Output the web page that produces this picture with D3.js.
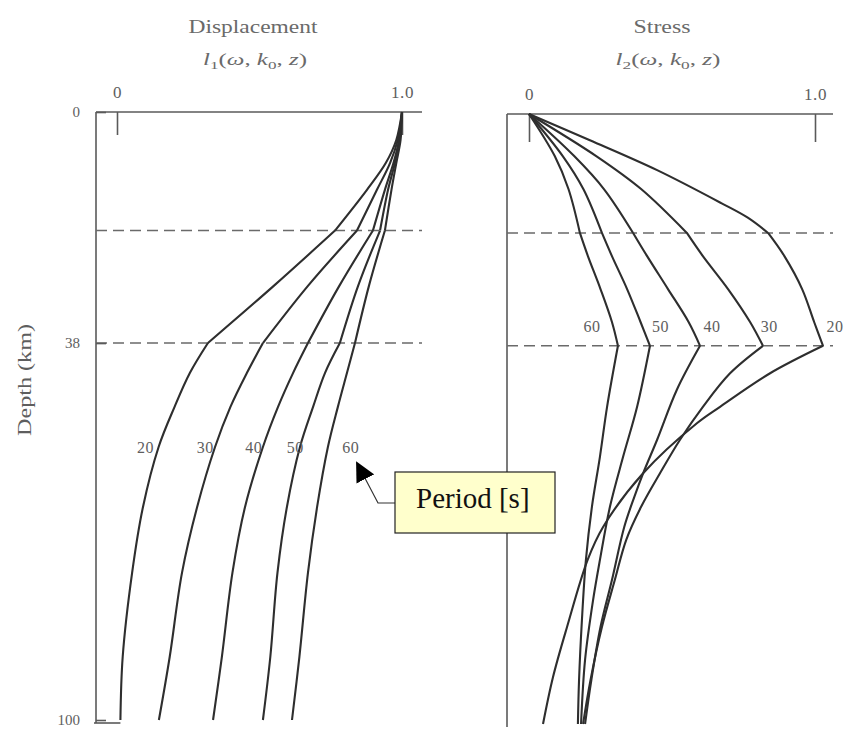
<!DOCTYPE html>
<html>
<head>
<meta charset="utf-8">
<script src="https://cdn.jsdelivr.net/npm/d3@7"></script>
<style>
  html, body { margin: 0; padding: 0; background: #ffffff; }
  svg { display: block; }
  text { font-family: "Liberation Serif", "DejaVu Serif", serif; }
</style>
</head>
<body>
<script>
// ---------------- DATA ----------------
const periods = [20, 30, 40, 50, 60];
const layerBoundaries = [19.5, 38];
const depthTicks = [0, 38, 100];
const valueTicks = [0, 1.0];

// displacement l1(w,k0,z): [depth km, value]
const disp20 = [[0,1.0],[4.6,0.98],[8.4,0.943],[12.8,0.877],[19.5,0.765],[28.6,0.55],[38,0.319],[42.9,0.256],[48.5,0.202],[55.1,0.146],[65,0.091],[75.8,0.053],[89.6,0.02],[100,0.012]];
const disp30 = [[0,1.0],[4.6,0.985],[8.4,0.958],[12.8,0.912],[19.5,0.842],[28.6,0.67],[38,0.512],[42.9,0.456],[48.5,0.398],[55.1,0.344],[65,0.281],[75.8,0.228],[89.6,0.185],[100,0.147]];
const disp40 = [[0,1.0],[4.6,0.99],[8.4,0.97],[12.8,0.94],[19.5,0.898],[28.6,0.78],[38,0.67],[42.9,0.618],[48.5,0.565],[55.1,0.512],[65,0.449],[75.8,0.405],[89.6,0.368],[100,0.337]];
const disp50 = [[0,1.0],[4.6,0.99],[8.4,0.975],[12.8,0.951],[19.5,0.923],[28.6,0.846],[38,0.782],[42.9,0.73],[48.5,0.688],[55.1,0.642],[65,0.596],[75.8,0.563],[89.6,0.538],[100,0.512]];
const disp60 = [[0,1.0],[4.6,0.995],[8.4,0.98],[12.8,0.963],[19.5,0.94],[28.6,0.884],[38,0.835],[42.9,0.807],[48.5,0.775],[55.1,0.74],[65,0.702],[75.8,0.67],[89.6,0.64],[100,0.614]];

// stress l2(w,k0,z): [depth km, value]
const str20 = [[0,0],[4.3,0.213],[9.2,0.448],[14.6,0.672],[17,0.765],[19.5,0.836],[23.3,0.893],[28.7,0.955],[34.1,0.997],[38,1.028],[42.5,0.843],[48,0.668],[50.7,0.587],[58.9,0.399],[67.7,0.259],[73.1,0.205],[84.1,0.133],[92.3,0.084],[100,0.049]];
const str30 = [[0,0],[6.9,0.235],[12.3,0.392],[19.5,0.552],[23.3,0.608],[28.7,0.696],[34.1,0.773],[38,0.818],[42.5,0.703],[48,0.608],[53.4,0.528],[58.9,0.458],[64.4,0.392],[69.8,0.34],[76.4,0.30],[84.1,0.255],[92.8,0.215],[100,0.189]];
const str40 = [[0,0],[6.9,0.158],[12.3,0.262],[19.5,0.364],[23.3,0.413],[28.7,0.486],[34.1,0.558],[38,0.598],[45.2,0.517],[53.4,0.448],[58.9,0.399],[62.8,0.368],[67.7,0.333],[76.4,0.29],[84.1,0.25],[92.8,0.218],[100,0.196]];
const str50 = [[0,0],[6.9,0.118],[12.3,0.19],[19.5,0.255],[23.3,0.29],[28.7,0.343],[34.1,0.39],[38,0.423],[48,0.378],[56.2,0.329],[64.4,0.283],[73.1,0.248],[79.7,0.224],[89.5,0.196],[100,0.182]];
const str60 = [[0,0],[6.9,0.09],[12.3,0.138],[19.5,0.178],[23.3,0.206],[28.7,0.25],[34.1,0.29],[38,0.311],[48,0.273],[56.2,0.248],[64.4,0.22],[73.1,0.199],[83,0.185],[92.8,0.175],[100,0.171]];

const dispSeries = [disp20, disp30, disp40, disp50, disp60];
const strSeries = [str20, str30, str40, str50, str60];

// period label anchors [depth, value], in the order of `periods`
const dispLabelPos = [[55.4,0.10],[55.4,0.31],[55.4,0.48],[55.4,0.625],[55.4,0.82]];
const strLabelPos = [[35.1,1.07],[35.1,0.84],[35.1,0.64],[35.1,0.46],[35.1,0.22]];

const panelTitles = ["Displacement", "Stress"];
const panelSubs = ["1", "2"];
const depthLabel = "Depth (km)";
const calloutText = "Period [s]";

// ---------------- LAYOUT ----------------
const W = 850, H = 734;
const svg = d3.select("body").append("svg").attr("width", W).attr("height", H);

const lineCol = "#2e2e2e", frameCol = "#5a5a5a", textCol = "#5e5e5e";

const panels = [
  { x: d3.scaleLinear().domain([0,1]).range([117,402]),
    y: d3.scaleLinear().domain([0,100]).range([112,720]),
    left: 96, right: 422, series: dispSeries, labels: dispLabelPos,
    titleX: 253, titleW: 129, subX: 255, subW: 104, tickLen: 23 },
  { x: d3.scaleLinear().domain([0,1]).range([529,815]),
    y: d3.scaleLinear().domain([0,100]).range([114,724]),
    left: 507, right: 833, series: strSeries, labels: strLabelPos,
    titleX: 662, titleW: 57, subX: 668, subW: 105, tickLen: 28 }
];

panels.forEach((p, pi) => {
  const g = svg.append("g");
  const y0 = p.y(0);

  // frame: top line and left line
  g.append("line").attr("x1", p.left).attr("x2", p.right).attr("y1", y0).attr("y2", y0)
    .attr("stroke", frameCol).attr("stroke-width", 1.6);
  g.append("line").attr("x1", p.left).attr("x2", p.left).attr("y1", y0).attr("y2", p.y(100) + 3)
    .attr("stroke", frameCol).attr("stroke-width", 1.6);

  // top value axis
  const ax = d3.axisTop(p.x).tickValues(valueTicks)
    .tickFormat(d => d === 0 ? "0" : d3.format(".1f")(d))
    .tickSizeInner(-p.tickLen).tickSizeOuter(0).tickPadding(14);
  const axG = g.append("g").attr("transform", `translate(0,${y0})`).call(ax);
  axG.select(".domain").remove();
  axG.selectAll("line").attr("stroke", frameCol).attr("stroke-width", 1.6);
  axG.selectAll("text").attr("font-size", 17).attr("letter-spacing", 0.6).attr("fill", textCol)
    .attr("font-family", "Liberation Serif, serif");

  // dashed layer boundaries
  layerBoundaries.forEach(d => {
    g.append("line").attr("x1", p.left).attr("x2", p.right)
      .attr("y1", p.y(d)).attr("y2", p.y(d))
      .attr("stroke", "#6a6a6a").attr("stroke-width", 1.5)
      .attr("stroke-dasharray", "11,6");
  });

  // curves, drawn layer by layer so kinks stay sharp
  const line = d3.line().x(d => p.x(d[1])).y(d => p.y(d[0])).curve(d3.curveCatmullRom.alpha(0.5));
  const edges = [0, ...layerBoundaries, 100];
  p.series.forEach(s => {
    for (let i = 0; i < edges.length - 1; i++) {
      const seg = s.filter(d => d[0] >= edges[i] && d[0] <= edges[i+1]);
      g.append("path").datum(seg).attr("d", line)
        .attr("fill", "none").attr("stroke", lineCol).attr("stroke-width", 2.1)
        .attr("stroke-linejoin", "miter");
    }
  });

  // period labels
  p.labels.forEach((lp, i) => {
    g.append("text").attr("x", p.x(lp[1])).attr("y", p.y(lp[0]))
      .attr("text-anchor", "middle").attr("dominant-baseline", "middle")
      .attr("font-size", 16).attr("letter-spacing", 0.5).attr("fill", textCol).text(periods[i]);
  });

  // titles
  g.append("text").attr("x", p.titleX).attr("y", 33).attr("text-anchor", "middle")
    .attr("font-size", 18).attr("textLength", p.titleW).attr("lengthAdjust", "spacingAndGlyphs")
    .attr("fill", "#6a6a6a").text(panelTitles[pi]);
  const st = g.append("text").attr("x", p.subX).attr("y", 65).attr("text-anchor", "middle")
    .attr("font-size", 16).attr("textLength", p.subW).attr("lengthAdjust", "spacingAndGlyphs")
    .attr("fill", "#6a6a6a");
  st.append("tspan").attr("font-style", "italic").text("l");
  st.append("tspan").attr("font-size", 11).attr("dy", 4).text(panelSubs[pi]);
  st.append("tspan").attr("dy", -4).text("(");
  st.append("tspan").attr("font-style", "italic").text("ω");
  st.append("tspan").text(", ");
  st.append("tspan").attr("font-style", "italic").text("k");
  st.append("tspan").attr("font-size", 11).attr("dy", 4).text("0");
  st.append("tspan").attr("dy", -4).text(", ");
  st.append("tspan").attr("font-style", "italic").text("z");
  st.append("tspan").text(")");
});

// left depth axis
const pL = panels[0];
const ay = d3.axisLeft(pL.y).tickValues(depthTicks).tickSizeInner(-10).tickSizeOuter(0).tickPadding(16);
const ayG = svg.append("g").attr("transform", `translate(${pL.left},0)`).call(ay);
ayG.select(".domain").remove();
ayG.selectAll("line").attr("stroke", frameCol).attr("stroke-width", 1.6);
ayG.selectAll("text").attr("font-size", 15).attr("fill", textCol)
  .attr("font-family", "Liberation Serif, serif");
// bottom edge of left frame up to the 20 s curve
svg.append("line").attr("x1", pL.left - 2).attr("x2", pL.x(disp20[disp20.length-1][1]))
  .attr("y1", pL.y(100) + 3).attr("y2", pL.y(100) + 3)
  .attr("stroke", frameCol).attr("stroke-width", 1.6);

svg.append("text").attr("transform", `translate(31,${380}) rotate(-90)`)
  .attr("text-anchor", "middle").attr("font-size", 18)
  .attr("textLength", 112).attr("lengthAdjust", "spacingAndGlyphs")
  .attr("fill", textCol).text(depthLabel);

// callout
const box = { x: 395, y: 472, w: 160, h: 61 };
const defs = svg.append("defs");
defs.append("marker").attr("id", "ah").attr("viewBox", "0 0 10 10")
  .attr("refX", 9).attr("refY", 5)
  .attr("orient", "auto").attr("markerUnits", "userSpaceOnUse")
  .attr("markerWidth", 20).attr("markerHeight", 20)
  .append("path").attr("d", "M0,0 L10,5 L0,10 z").attr("fill", "#000");
svg.append("path")
  .attr("d", `M${box.x},${box.y + 31} L378,${box.y + 31} L357,463`)
  .attr("fill", "none").attr("stroke", "#333").attr("stroke-width", 1.2)
  .attr("marker-end", "url(#ah)");
svg.append("rect").attr("x", box.x).attr("y", box.y).attr("width", box.w).attr("height", box.h)
  .attr("fill", "#ffffcc").attr("stroke", "#222").attr("stroke-width", 1.2);
svg.append("text").attr("x", box.x + 21).attr("y", 508).attr("font-size", 29)
  .attr("fill", "#111").text(calloutText);
</script>
</body>
</html>
